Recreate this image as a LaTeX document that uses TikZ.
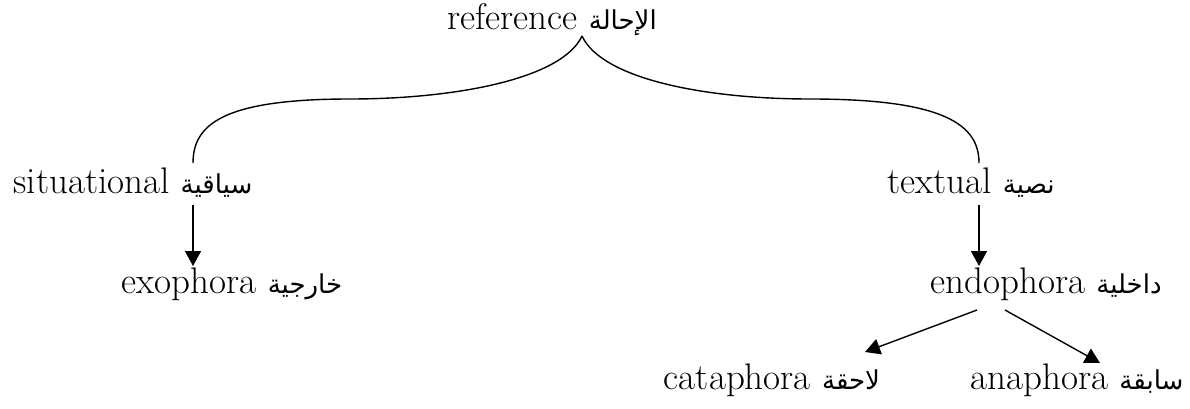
\documentclass[tikz,border=0pt]{standalone}
\usepackage{fontspec}
\setmainfont{Latin Modern Roman}
\newfontfamily\arabicfont[Script=Arabic]{DejaVu Sans}
\TeXXeTstate=1
\usetikzlibrary{arrows.meta}
\newcommand{\arb}[1]{{\arabicfont\fontsize{26}{30}\selectfont\beginR #1\endR}}
\begin{document}
\begin{tikzpicture}[x=1pt,y=-1pt,
  lbl/.style={inner sep=0pt, anchor=base, font=\fontsize{37}{43}\selectfont},
  link/.style={line width=1.4pt},
  arr/.style={line width=1.4pt, -{Triangle[length=15pt,width=16pt]}}]
\useasboundingbox (0,0) rectangle (1190,409);
\node[lbl] (ref)  at (552,30)  {reference \arb{الإحالة}};
\node[lbl] (sit)  at (133,193) {situational \arb{سياقية}};
\node[lbl] (txt)  at (971,193) {textual \arb{نصية}};
\node[lbl] (exo)  at (232,293) {exophora \arb{خارجية}};
\node[lbl] (endo) at (1046,293) {endophora \arb{داخلية}};
\node[lbl] (cata) at (772,389) {cataphora \arb{لاحقة}};
\node[lbl] (ana)  at (1077,389) {anaphora \arb{سابقة}};
% connector points
\coordinate (cusp) at (582,36);
\coordinate (sitTop) at (193,163);
\coordinate (txtTop) at (979,163);
\coordinate (sitBot) at (193,205);
\coordinate (exoTop) at (193,266);
\coordinate (txtBot) at (979,205);
\coordinate (endoTop) at (979,266);
\coordinate (endoL) at (977,310);
\coordinate (endoR) at (1005,310);
\coordinate (cataTop) at (865,352);
\coordinate (anaTop) at (1100,363);
\draw[link] (cusp) .. controls (562,79) and (455,99) .. (350,99)
  .. controls (222,99) and (193,125) .. (sitTop);
\draw[link] (cusp) .. controls (602,79) and (705,99) .. (810,99)
  .. controls (945,99) and (979,125) .. (txtTop);
\draw[arr] (sitBot) -- (exoTop);
\draw[arr] (txtBot) -- (endoTop);
\draw[arr] (endoL) -- (cataTop);
\draw[arr] (endoR) -- (anaTop);
\end{tikzpicture}
\end{document}
